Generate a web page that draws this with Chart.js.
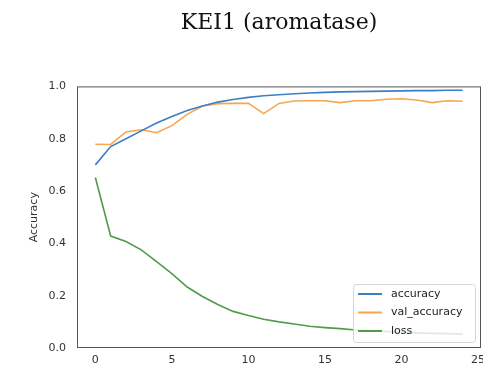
<!DOCTYPE html>
<html lang="en">
<head>
    <meta charset="UTF-8">
    <title>KEI1 (aromatase)</title>
    <script src="https://cdn.jsdelivr.net/npm/chart.js"></script>
    <style>
        html, body { margin: 0; padding: 0; background: #fff; }
        #box { width: 483px; height: 366px; }
    </style>
</head>
<body>
    <div id="box"><canvas id="grafico"></canvas></div>

<script>
    // epochs 0..24
    var epocas = [0,1,2,3,4,5,6,7,8,9,10,11,12,13,14,15,16,17,18,19,20,21,22,23,24];

    var accuracy = [0.70, 0.77, 0.80, 0.83, 0.86, 0.885, 0.908, 0.925, 0.94, 0.95, 0.958, 0.964, 0.968,
        0.972, 0.975, 0.977, 0.979, 0.98, 0.981, 0.982, 0.983, 0.984, 0.984, 0.985, 0.985];

    var valAccuracy = [0.779, 0.778, 0.826, 0.834, 0.823, 0.85, 0.893, 0.925, 0.934, 0.935, 0.935, 0.896, 0.935,
        0.944, 0.945, 0.945, 0.938, 0.945, 0.945, 0.951, 0.953, 0.948, 0.938, 0.945, 0.943];

    var loss = [0.652, 0.428, 0.407, 0.375, 0.33, 0.284, 0.233, 0.197, 0.166, 0.14, 0.124, 0.11, 0.1,
        0.092, 0.083, 0.078, 0.074, 0.069, 0.066, 0.063, 0.06, 0.058, 0.056, 0.055, 0.054];

    var xTicks = [0, 5, 10, 15, 20, 25];
    var yTicks = [0, 0.2, 0.4, 0.6, 0.8, 1.0];

    function pontos(valores) {
        return valores.map(function (v, i) { return { x: epocas[i], y: v }; });
    }

    // legenda dentro do grafico, canto inferior direito (estilo matplotlib)
    const legendaDentro = {
        id: 'legendaDentro',
        afterDraw(chart) {
            const ctx = chart.ctx;
            const area = chart.chartArea;
            const w = 122, h = 58;
            const x0 = area.right - w - 6, y0 = area.bottom - h - 6;
            ctx.save();
            ctx.fillStyle = 'rgba(255,255,255,0.8)';
            ctx.strokeStyle = '#d6d6d6';
            ctx.lineWidth = 1;
            ctx.beginPath();
            ctx.roundRect(x0 + 0.5, y0 + 0.5, w, h, 3);
            ctx.fill();
            ctx.stroke();
            ctx.font = '11px "DejaVu Sans"';
            ctx.textBaseline = 'middle';
            chart.data.datasets.forEach(function (ds, i) {
                const yy = y0 + 10 + i * 18.5;
                ctx.strokeStyle = ds.borderColor;
                ctx.lineWidth = 2;
                ctx.beginPath();
                ctx.moveTo(x0 + 5, yy);
                ctx.lineTo(x0 + 29, yy);
                ctx.stroke();
                ctx.fillStyle = '#222';
                ctx.fillText(ds.label, x0 + 38, yy);
            });
            ctx.restore();
        }
    };

    // moldura completa do eixo
    const moldura = {
        id: 'moldura',
        afterDatasetsDraw(chart) {
            const ctx = chart.ctx;
            const a = chart.chartArea;
            ctx.save();
            ctx.strokeStyle = '#555';
            ctx.lineWidth = 1;
            ctx.strokeRect(a.left + 0.5, a.top + 0.5, a.right - a.left - 1, a.bottom - a.top - 1);
            ctx.restore();
        }
    };

    const dados = {
        datasets: [
            { label: 'accuracy', data: pontos(accuracy), borderColor: '#3d7fc3', borderWidth: 1.6 },
            { label: 'val_accuracy', data: pontos(valAccuracy), borderColor: '#f7a54f', borderWidth: 1.6 },
            { label: 'loss', data: pontos(loss), borderColor: '#4f9c4b', borderWidth: 1.6 }
        ]
    };

    const config = {
        type: 'line',
        data: dados,
        options: {
            responsive: true,
            maintainAspectRatio: false,
            animation: false,
            elements: { point: { radius: 0 }, line: { tension: 0 } },
            layout: { padding: { left: 28, right: 2, top: 0, bottom: 0 } },
            plugins: {
                legend: { display: false },
                tooltip: { enabled: false },
                title: {
                    display: true,
                    fullSize: false,
                    text: 'KEI1 (aromatase)',
                    color: '#111',
                    font: { family: '"DejaVu Serif", "Liberation Serif", serif', size: 22, weight: 'normal' },
                    padding: { top: 10, bottom: 50 }
                }
            },
            scales: {
                x: {
                    type: 'linear',
                    min: -1.2,
                    max: 25.2,
                    afterBuildTicks(scale) { scale.ticks = xTicks.map(function (v) { return { value: v }; }); },
                    afterFit(scale) { scale.height = 18; scale.paddingRight = 0; scale.paddingLeft = 0; },
                    grid: { display: false, drawTicks: true, tickLength: 4, tickColor: '#555' },
                    border: { display: false },
                    ticks: { color: '#333', padding: 2, maxRotation: 0, font: { family: '"DejaVu Sans"', size: 11 } }
                },
                y: {
                    min: 0,
                    max: 1,
                    afterBuildTicks(scale) { scale.ticks = yTicks.map(function (v) { return { value: v }; }); },
                    afterFit(scale) { scale.width = 49; },
                    grid: { display: false, drawTicks: true, tickLength: 6, tickColor: '#555' },
                    border: { display: false },
                    ticks: {
                        color: '#333', padding: 5, font: { family: '"DejaVu Sans"', size: 11 },
                        callback: function (v) { return Number(v).toFixed(1); }
                    },
                    title: {
                        display: true, text: 'Accuracy', color: '#333',
                        font: { family: '"DejaVu Sans"', size: 11 }, padding: { top: 0, bottom: 0 }
                    }
                }
            }
        },
        plugins: [moldura, legendaDentro]
    };

    let grafico = new Chart(document.getElementById('grafico'), config);
</script>
</body>
</html>
